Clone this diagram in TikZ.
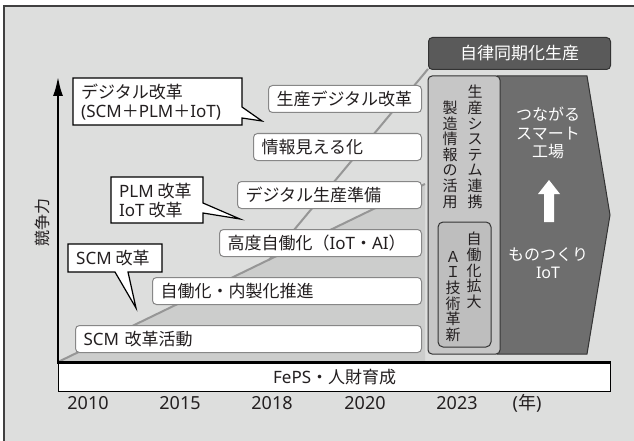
\documentclass[tikz,border=0pt]{standalone}
\usepackage{fontspec}
\setmainfont{Noto Sans CJK JP}
\newfontfamily\lat{Noto Sans}
\usetikzlibrary{arrows.meta}
\definecolor{bg}{RGB}{221,222,221}
\definecolor{shadeg}{RGB}{204,205,204}
\definecolor{lineg}{RGB}{150,150,150}
\definecolor{boxb}{RGB}{135,135,135}
\definecolor{colone}{RGB}{198,198,198}
\definecolor{colin}{RGB}{190,190,190}
\definecolor{coltwo}{RGB}{110,110,110}
\definecolor{darkbox}{RGB}{90,90,90}
\definecolor{txt}{RGB}{35,31,32}
\tikzset{
  fsbig/.style={font=\fontsize{17pt}{19pt}\selectfont},
  stepbox/.style={draw=boxb, fill=white, rounded corners=4pt, line width=1pt, anchor=north west,
    minimum height=27pt, inner xsep=8pt, inner ysep=0pt, align=left, text=txt, fsbig},
  callout/.style={draw=black, fill=white, line width=1.2pt, line join=miter},
  calltext/.style={anchor=west, align=left, inner sep=0pt, text=txt, fsbig},
  diag/.style={draw=lineg, line width=2pt},
  vtext/.style={font=\fontsize{15pt}{15.6pt}\selectfont, align=center, anchor=north, inner sep=0pt, text=txt},
  wtext/.style={font=\fontsize{16pt}{18.5pt}\selectfont, align=center, inner sep=0pt, text=white},
  yeartext/.style={font=\fontsize{18pt}{20pt}\selectfont\lat, text=txt, inner sep=0pt},
}
\begin{document}
\begin{tikzpicture}[x=1pt,y=-1pt]
\useasboundingbox (0,0) rectangle (634,441);
\fill[white] (0,0) rectangle (634,441);
\fill[bg] (4,6) rectangle (634,441);
\draw[line width=1.2pt, black!75] (4,441) -- (4,6) -- (634,6);

% diagonal growth lines and shaded wedge
\coordinate (O) at (58,362);
\coordinate (S) at (425,184);
\coordinate (B) at (269,260);
\coordinate (T) at (428,69);
\fill[shadeg] (O) -- (S) -- (425,362) -- cycle;
\draw[diag] (O) -- (S);
\draw[diag] (B) -- (T);

% step boxes
\node (b1) [stepbox, text width=330pt] at (75,325) {{\lat SCM} 改革活動};
\node (b2) [stepbox, text width=253pt] at (152,277) {自働化・内製化推進};
\node (b3) [stepbox, text width=186pt] at (219,229) {高度自働化（{\lat IoT}・{\lat AI}）};
\node (b4) [stepbox, text width=168pt] at (237,181) {デジタル生産準備};
\node (b5) [stepbox, text width=152pt] at (253,133) {情報見える化};
\node (b6) [stepbox, text width=137pt] at (268,85) {生産デジタル改革};

% callouts
\draw[callout] (73,78) -- (242,78) -- (242,107) -- (262,121) -- (242,118) -- (242,125) -- (73,125) -- cycle;
\node (c1) [calltext] at (81,102.5) {デジタル改革\\{\lat (SCM}＋{\lat PLM}＋{\lat IoT)}};
\draw[callout] (111,177) -- (203,177) -- (203,203) -- (240,219) -- (203,213) -- (203,223) -- (111,223) -- cycle;
\node (c2) [calltext] at (119,201) {{\lat PLM} 改革\\{\lat IoT} 改革};
\draw[callout] (68,244) -- (162,244) -- (162,272) -- (128,272) -- (136,308) -- (115,272) -- (68,272) -- cycle;
\node (c3) [calltext] at (76,258) {{\lat SCM} 改革};

% right side
\node (auto) [fill=darkbox, draw=black!80, line width=1pt, rounded corners=4pt, anchor=north west,
  minimum width=182pt, minimum height=32pt, inner sep=0pt, text=white, fsbig] at (428,37) {自律同期化生産};
\draw[fill=coltwo, draw=black!80, line width=1pt] (497,76) -- (587,76) -- (610,215) -- (587,354) -- (497,354) -- cycle;
\draw[fill=colone, draw=black!80, line width=1pt, rounded corners=4pt] (428,76) rectangle (500,354);
\node (v1) [vtext] at (475,85) {生\\産\\シ\\ス\\テ\\ム\\連\\携};
\node (v2) [vtext] at (450,100.6) {製\\造\\情\\報\\の\\活\\用};
\draw[fill=colin, draw=black!80, line width=1pt, rounded corners=5pt] (438,222) rectangle (491,347);
\node (v3) [vtext] at (474,232) {自\\働\\化\\拡\\大};
\node (v4) [vtext] at (453,251) {Ａ\\Ｉ\\技\\術\\革\\新};
\node (w1) [wtext] at (548,133) {つながる\\スマート\\工場};
\fill[white] (544,222) -- (554,222) -- (554,194) -- (560,194) -- (549,180) -- (538,194) -- (544,194) -- cycle;
\node (w2) [wtext] at (548,263) {ものつくり\\{\lat IoT}};

% axes
\node (bar) [draw=black, fill=white, line width=1.3pt, minimum width=552pt, minimum height=29pt,
  anchor=north west, inner sep=0pt, text=txt, fsbig] at (58,362) {{\lat FePS}・人財育成};
\draw[line width=3pt] (bar.north west) -- (bar.north east);
\coordinate (Ytop) at (58,76);
\draw[line width=2.8pt, -{Latex[length=20pt,width=10pt]}] (58,363.5) -- (Ytop);
\node (ylab) [rotate=90, font=\fontsize{16pt}{18pt}\selectfont, text=txt] at (42,222) {競争力};

% years
\node (y1) [yeartext] at (88,403) {2010};
\node (y2) [yeartext] at (180,403) {2015};
\node (y3) [yeartext] at (272,403) {2018};
\node (y4) [yeartext] at (365,403) {2020};
\node (y5) [yeartext] at (457,403) {2023};
\node (y6) [yeartext] at (527,403) {({\rmfamily 年})};
\end{tikzpicture}
\end{document}
